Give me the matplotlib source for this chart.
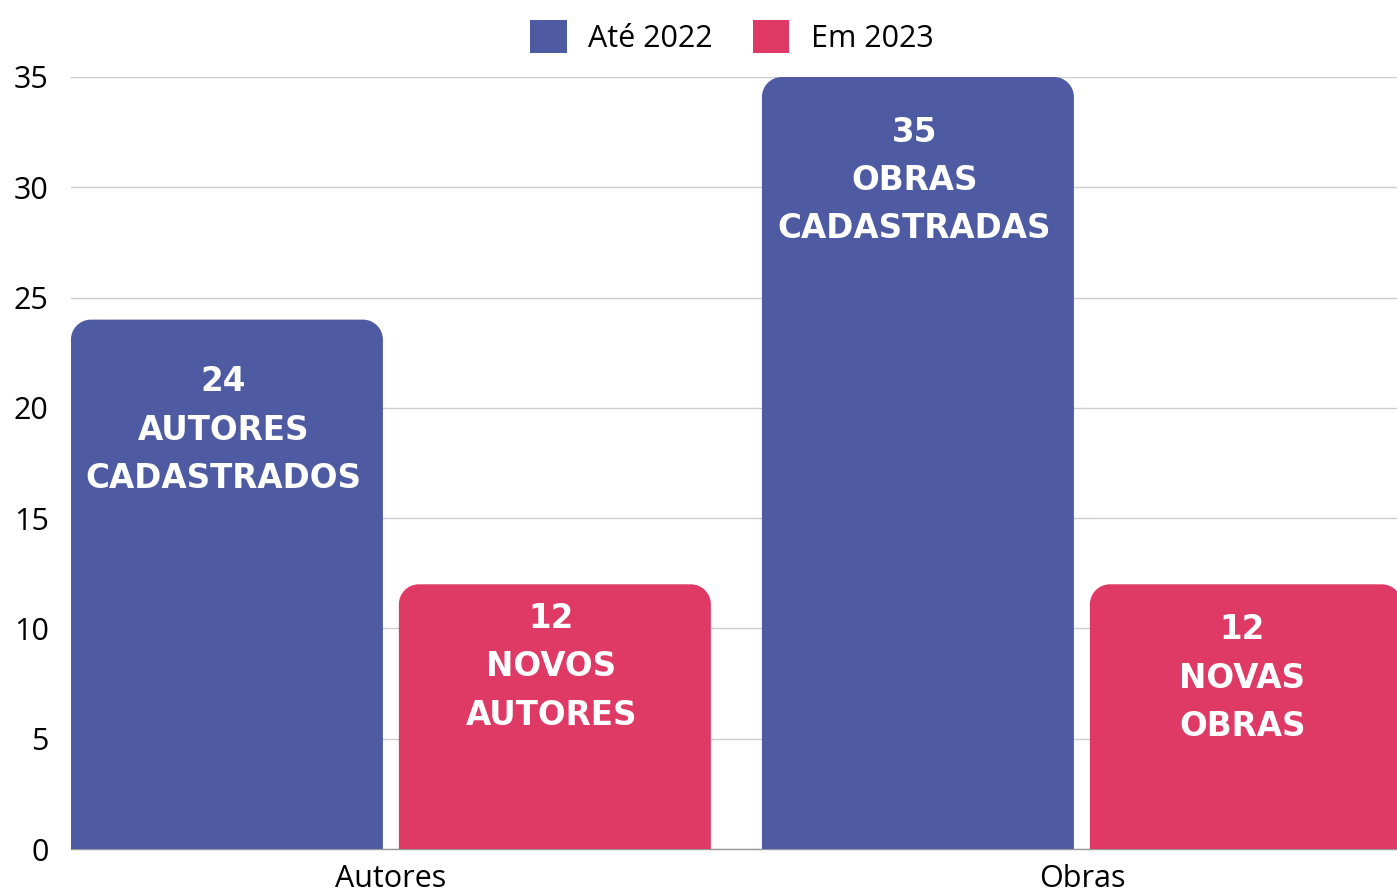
import matplotlib.pyplot as plt
import numpy as np
from matplotlib.path import Path
from matplotlib.patches import PathPatch, Patch

categories = ["Autores", "Obras"]
series_names = ["Até 2022", "Em 2023"]
ate_2022 = [24, 35]
em_2023 = [12, 12]
labels_2022 = ["24\nAUTORES\nCADASTRADOS", "35\nOBRAS\nCADASTRADAS"]
labels_2023 = ["12\nNOVOS\nAUTORES", "12\nNOVAS\nOBRAS"]

BLUE = "#4E5BA3"
PINK = "#DE3A65"

plt.rcParams["font.family"] = ["Open Sans", "DejaVu Sans"]

fig = plt.figure(figsize=(13.97, 8.92), dpi=100)
ax = fig.add_axes([0.0508, 0.0482, 0.9492, 0.8655])

x = np.arange(len(categories))
width = 0.4515
offset = 0.2373

bars1 = ax.bar(x - offset, ate_2022, width, color=BLUE, zorder=3)
bars2 = ax.bar(x + offset, em_2023, width, color=PINK, zorder=3)

ax.set_xlim(-0.463, 1.456)
ax.set_ylim(0, 35)
ax.set_yticks(range(0, 36, 5))
ax.set_xticks(x)
ax.set_xticklabels(categories)
ax.tick_params(axis="both", length=0, labelsize=22, colors="black")
ax.tick_params(axis="y", pad=16)
ax.tick_params(axis="x", pad=11)
ax.grid(axis="y", color="#cccccc", linewidth=1, zorder=0)
for side in ["left", "right", "top"]:
    ax.spines[side].set_visible(False)
ax.spines["bottom"].set_color("#999999")
ax.spines["bottom"].set_linewidth(1)


def rounded_top(rect, radius_px=20):
    # swap a plain bar for one with rounded top corners
    x0, y0 = rect.get_x(), rect.get_y()
    w, h = rect.get_width(), rect.get_height()
    sx = ax.transData.transform((1, 0))[0] - ax.transData.transform((0, 0))[0]
    sy = ax.transData.transform((0, 1))[1] - ax.transData.transform((0, 0))[1]
    rx, ry = radius_px / sx, radius_px / sy
    k = 0.5523
    x1, y1 = x0 + w, y0 + h
    verts = [
        (x0, y0), (x0, y1 - ry),
        (x0, y1 - ry + k * ry), (x0 + rx - k * rx, y1), (x0 + rx, y1),
        (x1 - rx, y1),
        (x1 - rx + k * rx, y1), (x1, y1 - ry + k * ry), (x1, y1 - ry),
        (x1, y0), (x0, y0),
    ]
    codes = [Path.MOVETO, Path.LINETO,
             Path.CURVE4, Path.CURVE4, Path.CURVE4,
             Path.LINETO,
             Path.CURVE4, Path.CURVE4, Path.CURVE4,
             Path.LINETO, Path.CLOSEPOLY]
    patch = PathPatch(Path(verts, codes), facecolor=rect.get_facecolor(),
                      edgecolor="none", zorder=3, clip_on=True)
    ax.add_patch(patch)
    rect.set_visible(False)


for r in list(bars1) + list(bars2):
    rounded_top(r)

# distance (points) from bar top to the label block
label_drop = [[33, 28], [13, 21]]
for row, (bars, texts) in enumerate([(bars1, labels_2022), (bars2, labels_2023)]):
    for i, (b, txt) in enumerate(zip(bars, texts)):
        ax.annotate(txt, (b.get_x() + b.get_width() / 2 - 0.005, b.get_height()),
                    xytext=(0, -label_drop[row][i]), textcoords="offset points",
                    ha="center", va="top", color="white", fontsize=23.5,
                    fontweight="bold", family=["DejaVu Sans"],
                    linespacing=1.58, zorder=4)

handles = [Patch(facecolor=BLUE), Patch(facecolor=PINK)]
fig.legend(handles=handles, labels=series_names, loc="upper center",
           bbox_to_anchor=(0.524, 1.0), ncol=2, frameon=False, fontsize=22,
           handlelength=1.2, handleheight=1.3, columnspacing=1.3,
           handletextpad=0.7, borderaxespad=0.25)

fig.savefig("out.png", dpi=100)
